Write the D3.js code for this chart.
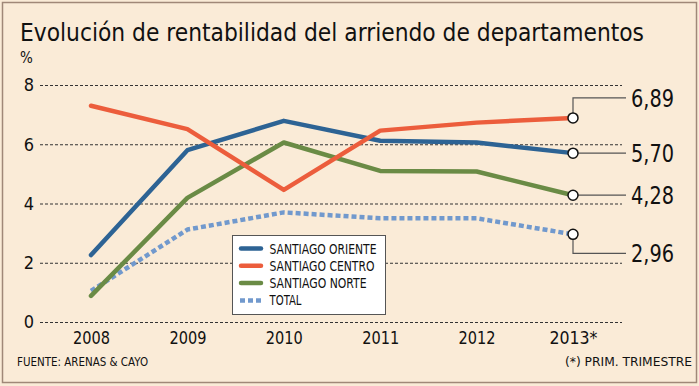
<!DOCTYPE html>
<html>
<head>
<meta charset="utf-8">
<script src="https://cdn.jsdelivr.net/npm/d3@7"></script>
<style>
  html, body { margin: 0; padding: 0; background: #faebd7; }
  svg { display: block; }
  text { font-family: "DejaVu Sans Condensed", "DejaVu Sans", sans-serif; fill: #111; }
</style>
</head>
<body>
<svg id="chart" width="699" height="386"></svg>
<script>
// ---- data ----
const years = ["2008", "2009", "2010", "2011", "2012", "2013*"];
const yTicks = [0, 2, 4, 6, 8];
const seriesNames = ["SANTIAGO ORIENTE", "SANTIAGO CENTRO", "SANTIAGO NORTE", "TOTAL"];
const oriente = [2.26, 5.80, 6.79, 6.12, 6.06, 5.70];
const centro  = [7.30, 6.51, 4.46, 6.46, 6.73, 6.89];
const norte   = [0.88, 4.19, 6.06, 5.10, 5.08, 4.28];
const total   = [1.05, 3.12, 3.70, 3.50, 3.50, 2.96];
const titleText = "Evolución de rentabilidad del arriendo de departamentos";
const sourceText = "FUENTE: ARENAS & CAYO";
const noteText = "(*) PRIM. TRIMESTRE";

// ---- styles / layout ----
const colors = ["#2d6394", "#ec5d3c", "#6a8b45", "#7199cd"];
const labelOffsets = [0, -20, 0, 19];
const legendWidths = [107, 105, 97, 32];

const svg = d3.select("#chart");
const W = 699, H = 386;

svg.append("rect").attr("x", 0).attr("y", 0).attr("width", W).attr("height", H).attr("fill", "#faebd7");
svg.append("rect").attr("x", 2.5).attr("y", 2.5).attr("width", 694).attr("height", 380)
  .attr("fill", "none").attr("stroke", "#a08878").attr("stroke-width", 1.5);

svg.append("text").attr("x", 20).attr("y", 41).attr("font-size", 24)
  .attr("textLength", 624).attr("lengthAdjust", "spacingAndGlyphs").text(titleText);
svg.append("text").attr("x", 20).attr("y", 63).attr("font-size", 15).text("%");

const x = d3.scalePoint().domain(years).range([91, 573]);
const y = d3.scaleLinear().domain([0, 8]).range([322, 85]);

// y axis with gridlines
const gy = svg.append("g").attr("transform", "translate(40,0)")
  .call(d3.axisLeft(y).tickValues(yTicks).tickSize(-582).tickPadding(6).tickFormat(d3.format("d")));
gy.select(".domain").remove();
gy.selectAll(".tick line").attr("stroke", "#333").attr("stroke-width", 1).attr("stroke-dasharray", "3,2");
gy.selectAll(".tick text").attr("font-size", 18).attr("fill", "#111")
  .attr("font-family", "\"DejaVu Sans Condensed\", \"DejaVu Sans\", sans-serif");

// x axis
const gx = svg.append("g").attr("transform", "translate(0,322)")
  .call(d3.axisBottom(x).tickSize(0).tickPadding(10));
gx.select(".domain").remove();
gx.selectAll(".tick text").attr("font-size", 17).attr("fill", "#111")
  .attr("font-family", "\"DejaVu Sans Condensed\", \"DejaVu Sans\", sans-serif")
  .attr("textLength", d => d.length === 4 ? 37 : 48).attr("lengthAdjust", "spacingAndGlyphs");

// lines
const allSeries = [oriente, centro, norte, total];
const line = d3.line().x((d, i) => x(years[i])).y(d => y(d));
const drawOrder = [3, 2, 0, 1];
drawOrder.forEach(k => {
  const p = svg.append("path").datum(allSeries[k]).attr("d", line)
    .attr("fill", "none").attr("stroke", colors[k]).attr("stroke-width", 4.5)
    .attr("stroke-linejoin", "round");
  if (k === 3) p.attr("stroke-dasharray", "5,3").attr("stroke-linecap", "butt");
  else p.attr("stroke-linecap", "round");
});

// end labels with leaders
const last = years[years.length - 1];
const fmt = v => d3.format(".2f")(v).replace(".", ",");
allSeries.forEach((s, k) => {
  const v = s[s.length - 1];
  const cx = x(last), cy = y(v);
  const ly = cy + labelOffsets[k];
  svg.append("path").attr("d", d3.line()([[cx, cy], [cx, ly], [626, ly]]))
    .attr("fill", "none").attr("stroke", "#555").attr("stroke-width", 1.2);
  svg.append("text").attr("x", 631).attr("y", ly + 9).attr("font-size", 25)
    .attr("textLength", 43).attr("lengthAdjust", "spacingAndGlyphs").text(fmt(v));
});
allSeries.forEach((s, k) => {
  const v = s[s.length - 1];
  svg.append("circle").attr("cx", x(last)).attr("cy", y(v)).attr("r", 5)
    .attr("fill", "#fff").attr("stroke", "#111").attr("stroke-width", 1.5);
});

// legend
const lg = svg.append("g");
lg.append("rect").attr("x", 232.5).attr("y", 235.5).attr("width", 153).attr("height", 79)
  .attr("fill", "#fff").attr("stroke", "#555").attr("stroke-width", 1);
seriesNames.forEach((name, k) => {
  const ry = 248.5 + k * 17.3;
  const sw = lg.append("line").attr("x1", 241).attr("x2", 261).attr("y1", ry).attr("y2", ry)
    .attr("stroke", colors[k]).attr("stroke-width", 4.5);
  if (k === 3) sw.attr("stroke-dasharray", "5,3").attr("x1", 240).attr("x2", 262);
  else sw.attr("stroke-linecap", "round");
  lg.append("text").attr("x", 269.5).attr("y", ry + 5).attr("font-size", 14)
    .attr("textLength", legendWidths[k]).attr("lengthAdjust", "spacingAndGlyphs").text(name);
});

// footer
svg.append("text").attr("x", 17).attr("y", 366).attr("font-size", 12)
  .attr("textLength", 131).attr("lengthAdjust", "spacingAndGlyphs").text(sourceText);
svg.append("text").attr("x", 692).attr("y", 366).attr("font-size", 12).attr("text-anchor", "end")
  .attr("textLength", 127).attr("lengthAdjust", "spacingAndGlyphs").text(noteText);
</script>
</body>
</html>
